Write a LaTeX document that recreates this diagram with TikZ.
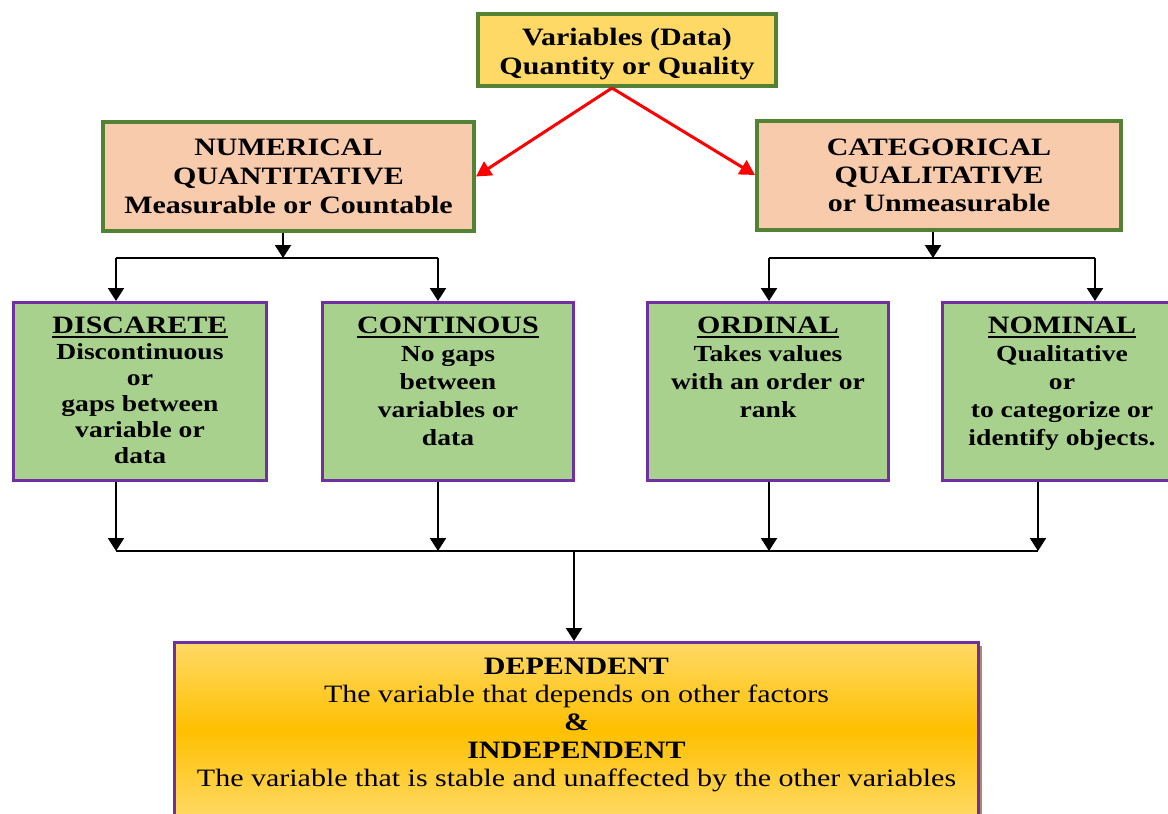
\documentclass[tikz,border=0pt]{standalone}
\usepackage{fontspec}
\setmainfont{Liberation Serif}[FakeStretch=1.2]
\usepackage{xcolor}
\usepackage{tikz}
\usetikzlibrary{arrows.meta,shadows}
\definecolor{gold}{HTML}{FFD966}
\definecolor{amber}{HTML}{FFC000}
\definecolor{leafgreen}{HTML}{548235}
\definecolor{peach}{HTML}{F8CBAD}
\definecolor{mint}{HTML}{A9D18E}
\definecolor{violetline}{HTML}{7030A0}
\newcommand{\headline}[1]{\leavevmode\vtop{\hbox{#1}\kern2pt\hrule height 2pt}}
% width, line spacing, title, body
\newcommand{\kindtext}[4]{\parbox[c][178pt][t]{#1}{\centering
  \fontsize{25}{26}\selectfont\rule{0pt}{31pt}\headline{#3}\\
  \fontsize{23}{#2}\selectfont #4}}

\begin{document}
\begin{tikzpicture}[x=1pt,y=-1pt,
  topbox/.style={draw=leafgreen,line width=4pt,fill=gold,align=center,inner sep=0pt,
    font=\bfseries\fontsize{25}{29}\selectfont},
  typebox/.style={topbox,fill=peach},
  kindbox/.style={draw=violetline,line width=3pt,fill=mint,inner sep=0pt,font=\bfseries},
  endbox/.style={draw=violetline,line width=3pt,inner sep=0pt,
    top color=gold,bottom color=gold,middle color=amber,
    drop shadow={shadow xshift=3pt,shadow yshift=-3pt,fill=brown!70!black,opacity=0.7}},
  arr/.style={line width=2.2pt,-{Triangle[width=16pt,length=13pt]}},
  redarr/.style={draw=red,line width=3pt,-{Triangle[width=16pt,length=15pt]}},
  bar/.style={line width=1.6pt}]
\useasboundingbox (0,0) rectangle (1168,814);
% top and the two variable types
\node[topbox,minimum width=298pt,minimum height=72pt] (var) at (627,50)
  {\rule{0pt}{26pt}Variables (Data)\\Quantity or Quality};
\node[typebox,minimum width=371pt,minimum height=109pt] (num) at (288.5,176.5)
  {NUMERICAL\\QUANTITATIVE\\Measurable or Countable};
\node[typebox,minimum width=364pt,minimum height=109pt,
  font=\bfseries\fontsize{25}{28}\selectfont] (cat) at (939,175)
  {CATEGORICAL\\QUALITATIVE\\or Unmeasurable};
\draw[redarr] ([xshift=-15pt]var.south) -- (num.east);
\draw[redarr] ([xshift=-15pt]var.south) -- (cat.west);
% the four kinds
\node[kindbox] (disc) at (140,391.5)
  {\kindtext{253pt}{26}{DISCARETE}{Discontinuous\\or\\gaps between\\variable or\\data}};
\node[kindbox] (cont) at (448,391.5)
  {\kindtext{251pt}{28}{CONTINOUS}{No gaps\\between\\variables or\\data}};
\node[kindbox] (ord) at (768,391.5)
  {\kindtext{241pt}{28}{ORDINAL}{Takes values\\with an order or\\rank}};
\node[kindbox] (nom) at (1062,391.5)
  {\kindtext{239pt}{28}{NOMINAL}{Qualitative\\or\\ to categorize or\\identify objects.}};
% splits below the types
\coordinate (nj) at (283,258);
\coordinate (nl) at (116,258);
\coordinate (nr) at (438,258);
\coordinate (cj) at (933,258);
\coordinate (cl) at (769,258);
\coordinate (cr) at (1095,258);
\draw[arr] (num.south -| nj) -- (nj);
\draw[bar] (nl) -- (nr);
\draw[arr] (nl) -- (disc.north -| nl);
\draw[arr] (nr) -- (cont.north -| nr);
\draw[arr] (cat.south -| cj) -- (cj);
\draw[bar] (cl) -- (cr);
\draw[arr] (cl) -- (ord.north -| cl);
\draw[arr] (cr) -- (nom.north -| cr);
% dependent / independent
\node[endbox] (dep) at (576.5,730.25)
  {\parbox[c][175.5pt][t]{804pt}{\centering\fontsize{25}{28}\selectfont
   \rule{0pt}{32pt}\textbf{DEPENDENT}\\
   The variable that depends on other factors\\
   \textbf{\&}\\
   \textbf{INDEPENDENT}\\
   The variable that is stable and unaffected by the other variables}};
\coordinate (bj) at (574,551);
\coordinate (bl) at (116,551);
\coordinate (bc) at (438,551);
\coordinate (bo) at (769,551);
\coordinate (br) at (1038,551);
\draw[arr] (disc.south -| bl) -- (bl);
\draw[arr] (cont.south -| bc) -- (bc);
\draw[arr] (ord.south -| bo) -- (bo);
\draw[arr] (nom.south -| br) -- (br);
\draw[bar] (bl) -- (br);
\draw[arr] (bj) -- (dep.north -| bj);
\end{tikzpicture}
\end{document}
